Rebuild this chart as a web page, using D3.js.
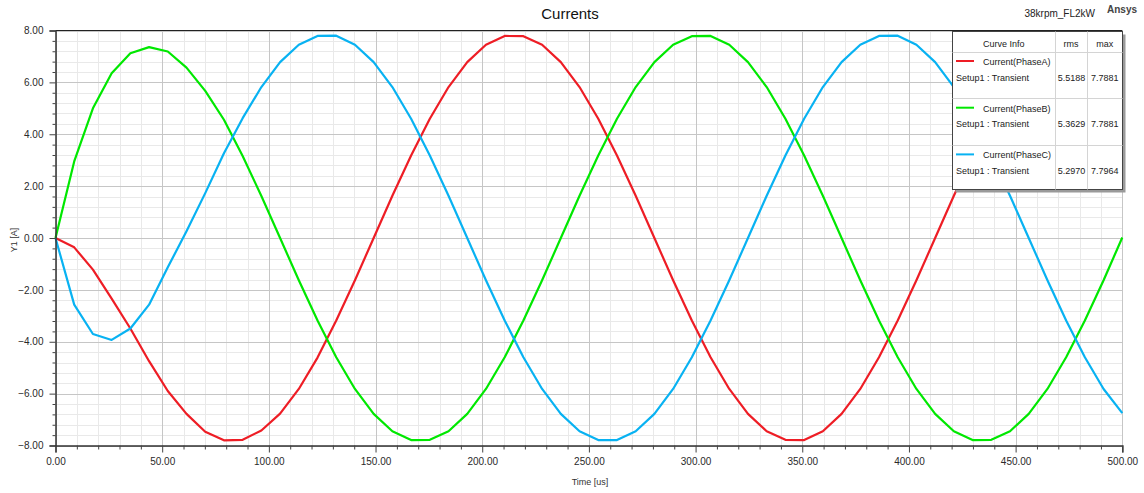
<!DOCTYPE html>
<html>
<head>
<meta charset="utf-8">
<script src="https://cdn.jsdelivr.net/npm/d3@7"></script>
<style>
  html, body { margin: 0; padding: 0; background: #fff; }
  svg { display: block; font-family: "Liberation Sans", Arial, sans-serif; }
</style>
</head>
<body>
<svg id="chart" width="1144" height="493"></svg>
<script>
// Sample instants [us]
const timeUs = [0, 8.77, 17.54, 26.32, 35.09, 43.86, 52.63, 61.40, 70.18, 78.95,
  87.72, 96.49, 105.26, 114.04, 122.81, 131.58, 140.35, 149.12, 157.89, 166.67,
  175.44, 184.21, 192.98, 201.75, 210.53, 219.30, 228.07, 236.84, 245.61, 254.39,
  263.16, 271.93, 280.70, 289.47, 298.25, 307.02, 315.79, 324.56, 333.33, 342.11,
  350.88, 359.65, 368.42, 377.19, 385.96, 394.74, 403.51, 412.28, 421.05, 429.82,
  438.60, 447.37, 456.14, 464.91, 473.68, 482.46, 491.23, 500.00];

// Phase currents [A]
const phaseA = [0, -0.36, -1.22, -2.34, -3.49, -4.75, -5.90, -6.78, -7.47, -7.80,
  -7.78, -7.42, -6.77, -5.82, -4.61, -3.18, -1.63, 0.00, 1.63, 3.18,
  4.60, 5.82, 6.78, 7.45, 7.79, 7.78, 7.45, 6.78, 5.82, 4.60,
  3.18, 1.63, 0.00, -1.63, -3.18, -4.60, -5.82, -6.78, -7.45, -7.78,
  -7.79, -7.45, -6.78, -5.82, -4.60, -3.18, -1.63, 0.00, 1.63, 3.18,
  4.60, 5.82, 6.78, 7.45, 7.79, 7.78, 7.45, 6.78];

const phaseB = [0, 2.95, 5.00, 6.35, 7.12, 7.36, 7.19, 6.57, 5.67, 4.56,
  3.16, 1.62, 0.00, -1.63, -3.18, -4.60, -5.82, -6.78, -7.45, -7.79,
  -7.78, -7.45, -6.78, -5.82, -4.60, -3.18, -1.63, 0.00, 1.63, 3.18,
  4.60, 5.82, 6.78, 7.45, 7.78, 7.79, 7.45, 6.78, 5.82, 4.60,
  3.18, 1.63, 0.00, -1.63, -3.18, -4.60, -5.82, -6.78, -7.45, -7.79,
  -7.78, -7.45, -6.78, -5.82, -4.60, -3.18, -1.63, 0.02];

const phaseC = [0, -2.57, -3.70, -3.93, -3.49, -2.57, -1.13, 0.26, 1.73, 3.27,
  4.62, 5.82, 6.78, 7.45, 7.79, 7.80, 7.45, 6.78, 5.82, 4.60,
  3.18, 1.63, 0.00, -1.63, -3.18, -4.60, -5.82, -6.78, -7.45, -7.79,
  -7.79, -7.45, -6.78, -5.82, -4.60, -3.18, -1.63, 0.00, 1.63, 3.18,
  4.60, 5.82, 6.78, 7.45, 7.79, 7.80, 7.45, 6.78, 5.82, 4.60,
  3.18, 1.63, 0.00, -1.63, -3.18, -4.60, -5.82, -6.75];

// Axis tick labels
const xTicks = [0, 50, 100, 150, 200, 250, 300, 350, 400, 450, 500];
const yTicks = [-8, -6, -4, -2, 0, 2, 4, 6, 8];

// Legend table contents
const curveNames = ["Current(PhaseA)", "Current(PhaseB)", "Current(PhaseC)"];
const curveContext = ["Setup1 : Transient", "Setup1 : Transient", "Setup1 : Transient"];
const rmsValues = ["5.5188", "5.3629", "5.2970"];
const maxValues = ["7.7881", "7.7881", "7.7964"];
const curveColors = ["#ee1d25", "#00e800", "#08b2f2"];

const svg = d3.select("#chart");

const plot = { left: 55.5, right: 1122.3, top: 30.5, bottom: 445.5 };
const x = d3.scaleLinear().domain([0, 500]).range([plot.left, plot.right]);
const y = d3.scaleLinear().domain([-8, 8]).range([plot.bottom, plot.top]);

// Grid: light minor lines, darker major lines
const grid = svg.append("g");
const xMinor = d3.range(0, 501, 10).filter(v => v % 50 !== 0);
const yMinor = d3.range(-80, 81, 4).map(v => v / 10).filter(v => Math.abs(v % 2) > 1e-9);

grid.selectAll(".xm").data(xMinor).join("line")
  .attr("x1", d => Math.round(x(d)) + 0.5).attr("x2", d => Math.round(x(d)) + 0.5)
  .attr("y1", plot.top).attr("y2", plot.bottom)
  .attr("stroke", "#e9e9e9").attr("stroke-width", 1);
grid.selectAll(".ym").data(yMinor).join("line")
  .attr("y1", d => Math.round(y(d)) + 0.5).attr("y2", d => Math.round(y(d)) + 0.5)
  .attr("x1", plot.left).attr("x2", plot.right)
  .attr("stroke", "#e9e9e9").attr("stroke-width", 1);
grid.selectAll(".xM").data(xTicks).join("line")
  .attr("x1", d => Math.round(x(d)) + 0.5).attr("x2", d => Math.round(x(d)) + 0.5)
  .attr("y1", plot.top).attr("y2", plot.bottom)
  .attr("stroke", "#c6c6c6").attr("stroke-width", 1);
grid.selectAll(".yM").data(yTicks).join("line")
  .attr("y1", d => Math.round(y(d)) + 0.5).attr("y2", d => Math.round(y(d)) + 0.5)
  .attr("x1", plot.left).attr("x2", plot.right)
  .attr("stroke", "#c6c6c6").attr("stroke-width", 1);

// Top frame line
svg.append("line")
  .attr("x1", plot.left).attr("x2", plot.right)
  .attr("y1", plot.top).attr("y2", plot.top)
  .attr("stroke", "#222").attr("stroke-width", 1.2);

// Curves
const line = d3.line().x((d, i) => x(timeUs[i])).y(d => y(d));
[phaseA, phaseB, phaseC].forEach((series, i) => {
  svg.append("path")
    .datum(series)
    .attr("d", line)
    .attr("fill", "none")
    .attr("stroke", curveColors[i])
    .attr("stroke-width", 2.2)
    .attr("stroke-linejoin", "round");
});

// Axes
const fmt = d3.format(".2f");
svg.append("g").attr("transform", `translate(${plot.left},0)`)
  .call(d3.axisLeft(y).tickValues(yTicks).tickFormat(fmt).tickSize(6).tickPadding(6));
svg.append("g").attr("transform", `translate(${plot.left},0)`)
  .call(d3.axisLeft(y).tickValues(yMinor).tickFormat("").tickSize(3))
  .call(g => g.select(".domain").remove());
svg.append("g").attr("transform", `translate(0,${plot.bottom})`)
  .call(d3.axisBottom(x).tickValues(xTicks).tickFormat(fmt).tickSize(7).tickPadding(5));
svg.append("g").attr("transform", `translate(0,${plot.bottom})`)
  .call(d3.axisBottom(x).tickValues(xMinor).tickFormat("").tickSize(4))
  .call(g => g.select(".domain").remove());

svg.selectAll(".domain").attr("stroke", "#333").attr("stroke-width", 1.5);
svg.selectAll(".tick line").attr("stroke", "#444");
svg.selectAll(".tick text").attr("fill", "#2a2a2a").attr("font-size", 10)
  .attr("font-family", "'Liberation Sans', Arial, sans-serif");

// Titles and axis names
svg.append("text").attr("x", 570).attr("y", 19).attr("text-anchor", "middle")
  .attr("font-size", 15).attr("fill", "#111").text("Currents");
svg.append("text").attr("x", 1095).attr("y", 17).attr("text-anchor", "end")
  .attr("font-size", 10).attr("fill", "#222").text("38krpm_FL2kW");
svg.append("text").attr("x", 1137).attr("y", 13).attr("text-anchor", "end")
  .attr("font-size", 10).attr("font-weight", "bold").attr("fill", "#444").text("Ansys");
svg.append("text").attr("x", 590).attr("y", 485).attr("text-anchor", "middle")
  .attr("font-size", 9).attr("fill", "#333").text("Time [us]");
svg.append("text").attr("transform", "translate(17,240) rotate(-90)")
  .attr("text-anchor", "middle").attr("font-size", 9).attr("fill", "#333").text("Y1 [A]");

// Legend table
const lg = { x: 952.5, y: 31.5, w: 170, h: 158, head: 20, row: 46.7 };
const col1 = 1055, col2 = 1087;
const legend = svg.append("g");
legend.append("rect").attr("x", lg.x + 3).attr("y", lg.y + 3).attr("width", lg.w).attr("height", lg.h)
  .attr("fill", "#9a9a9a");
legend.append("rect").attr("x", lg.x).attr("y", lg.y).attr("width", lg.w).attr("height", lg.h)
  .attr("fill", "#fff").attr("stroke", "#444").attr("stroke-width", 1);
[col1, col2].forEach(cx => legend.append("line")
  .attr("x1", cx + 0.5).attr("x2", cx + 0.5).attr("y1", lg.y).attr("y2", lg.y + lg.h)
  .attr("stroke", "#d4d4d4"));
d3.range(curveNames.length).forEach(i => {
  const ry = lg.y + lg.head + i * lg.row;
  legend.append("line").attr("x1", lg.x).attr("x2", lg.x + lg.w)
    .attr("y1", Math.round(ry) + 0.5).attr("y2", Math.round(ry) + 0.5).attr("stroke", "#d4d4d4");
});
const hdr = lg.y + 15;
legend.append("text").attr("x", (lg.x + col1) / 2).attr("y", hdr).attr("text-anchor", "middle")
  .attr("font-size", 9).attr("fill", "#222").text("Curve Info");
legend.append("text").attr("x", (col1 + col2) / 2).attr("y", hdr).attr("text-anchor", "middle")
  .attr("font-size", 9).attr("fill", "#222").text("rms");
legend.append("text").attr("x", (col2 + lg.x + lg.w) / 2).attr("y", hdr).attr("text-anchor", "middle")
  .attr("font-size", 9).attr("fill", "#222").text("max");
curveNames.forEach((name, i) => {
  const ly = lg.y + lg.head + 9.5 + i * lg.row;
  legend.append("line").attr("x1", 956).attr("x2", 974).attr("y1", ly).attr("y2", ly)
    .attr("stroke", curveColors[i]).attr("stroke-width", 2);
  legend.append("text").attr("x", 983).attr("y", ly + 4).attr("font-size", 9)
    .attr("fill", "#222").text(name);
  legend.append("text").attr("x", 956).attr("y", ly + 19.5).attr("font-size", 9)
    .attr("fill", "#222").text(curveContext[i]);
  legend.append("text").attr("x", (col1 + col2) / 2 + 0.5).attr("y", ly + 19.5).attr("text-anchor", "middle")
    .attr("font-size", 9).attr("fill", "#222").text(rmsValues[i]);
  legend.append("text").attr("x", (col2 + lg.x + lg.w) / 2).attr("y", ly + 19.5).attr("text-anchor", "middle")
    .attr("font-size", 9).attr("fill", "#222").text(maxValues[i]);
});
</script>
</body>
</html>
